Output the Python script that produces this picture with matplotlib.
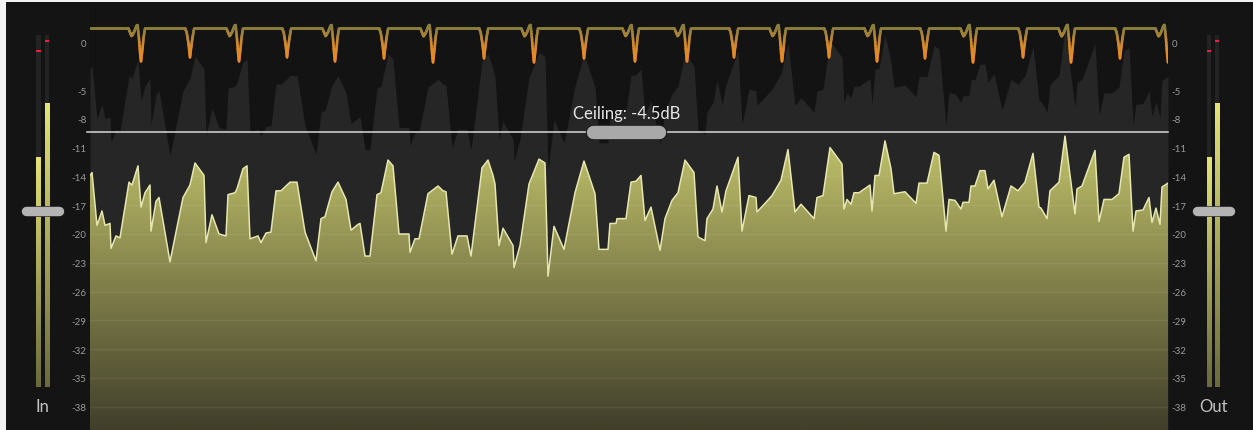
import numpy as np
import matplotlib.pyplot as plt
from matplotlib.collections import LineCollection
from matplotlib.colors import LinearSegmentedColormap, Normalize

# -----------------------------
# DATA
# -----------------------------
frames = [0, 2, 7, 12, 15, 20, 21, 26, 30, 39, 42, 48, 51, 55, 60, 61, 66, 69, 80, 93,
          100, 105, 114, 116, 122, 129, 136, 138, 145, 147, 153, 157, 160, 168, 171, 176, 181, 186, 191, 200,
          207, 215, 226, 231, 235, 242, 248, 256, 261, 268, 270, 275, 280, 287, 291, 298, 303, 309, 319, 320,
          325, 329, 338, 348, 353, 356, 362, 368, 377, 381, 392, 398, 403, 405, 409, 413, 423, 424, 430, 439,
          449, 455, 458, 464, 474, 485, 494, 505, 509, 518, 520, 526, 527, 536, 541, 546, 551, 555, 561, 570,
          575, 582, 588, 595, 604, 608, 615, 617, 623, 627, 632, 636, 648, 652, 659, 666, 667, 676, 682, 691,
          698, 705, 711, 717, 724, 727, 733, 740, 752, 754, 757, 761, 764, 769, 780, 782, 785, 789, 795, 801,
          803, 804, 815, 826, 829, 837, 844, 849, 856, 859, 865, 871, 873, 879, 881, 885, 890, 895, 898, 904,
          912, 921, 928, 935, 943, 949, 951, 957, 960, 969, 975, 985, 987, 992, 1005, 1009, 1014, 1022, 1029, 1034,
          1039, 1043, 1046, 1053, 1059, 1062, 1066, 1070, 1072, 1078]

output_db = [-13.9, -13.6, -19.1, -17.6, -19.1, -18.9, -21.5, -20.2, -20.4, -14.6, -14.9, -12.9, -17.2, -15.7, -14.9, -19.7, -16.6, -16.2, -22.9, -16.2,
             -14.9, -12.6, -13.9, -20.9, -18.0, -20.0, -20.2, -15.9, -15.7, -15.3, -13.2, -12.9, -20.5, -20.2, -20.9, -19.9, -19.8, -15.5, -15.5, -14.6,
             -14.6, -19.8, -22.8, -18.4, -18.2, -15.6, -14.6, -16.4, -19.6, -19.0, -18.9, -22.3, -22.3, -15.9, -15.7, -12.3, -12.9, -20.0, -20.0, -21.9,
             -20.5, -20.5, -15.8, -15.0, -15.5, -15.6, -22.1, -20.2, -20.2, -22.3, -13.1, -12.3, -13.9, -14.8, -21.2, -19.4, -21.2, -23.5, -21.2, -14.8,
             -12.2, -12.6, -24.4, -19.2, -21.6, -15.7, -12.4, -15.8, -21.6, -21.6, -18.9, -18.9, -18.4, -18.4, -14.6, -14.5, -13.9, -18.6, -17.2, -21.7,
             -18.4, -16.5, -15.7, -12.3, -13.6, -20.3, -20.7, -18.4, -17.4, -15.0, -17.7, -15.5, -12.0, -19.7, -16.0, -16.2, -17.7, -16.7, -16.0, -14.4,
             -11.2, -17.7, -16.9, -17.6, -18.4, -16.2, -16.0, -11.0, -12.7, -17.4, -16.4, -16.9, -15.7, -15.7, -14.9, -17.6, -13.9, -13.9, -10.3, -13.2,
             -14.9, -15.8, -15.6, -16.8, -14.7, -14.7, -11.5, -11.8, -19.7, -16.4, -16.5, -17.4, -16.7, -16.7, -15.0, -15.0, -13.4, -13.4, -15.3, -14.4,
             -18.2, -15.0, -15.5, -14.6, -11.6, -17.2, -17.3, -18.4, -15.5, -14.6, -9.8, -17.9, -15.3, -15.0, -11.3, -18.7, -16.4, -16.4, -15.8, -12.0,
             -11.7, -19.7, -17.6, -17.5, -16.2, -18.8, -17.3, -19.0, -15.1, -14.7]

INPUT_DRIVE_DB = 11.1          # grey input trace sits this far above the output
CEILING_DB = -9.4
CEILING_LABEL = "Ceiling: -4.5dB"

db_ticks = [0, -5, -8, -11, -14, -17, -20, -23, -26, -29, -32, -35, -38]
db_tick_labels = ["0", "-5", "-8", "-11", "-14", "-17", "-20", "-23", "-26", "-29", "-32", "-35", "-38"]

# gain reduction dips: frame, kind (A = with pre-dip, B = single), depth in dB
dip_frames = [51, 100, 149, 197, 245, 294, 343, 394, 444, 494, 545,
              597, 644, 692, 739, 787, 835, 883, 933, 981, 1030, 1078]
dip_kinds = ["A", "B", "A", "B", "A", "B", "A", "B", "A", "B", "A",
             "A", "B", "A", "B", "A", "B", "A", "B", "A", "B", "A"]
dip_depth_db = [-3.3, -2.9, -3.3, -2.9, -3.3, -3.0, -3.4, -3.0, -3.4, -3.0, -3.3,
                -3.3, -2.9, -3.3, -2.9, -3.3, -3.0, -3.4, -2.9, -3.4, -3.0, -3.4]

# shape of one dip (frame offset, fraction of depth)
DIP_SHAPES = {
    "A": ([-12.7, -11, -9.4, -7, -4.4, -3.4, -2, -1, 0, 1.3, 2.6, 4],
          [0, 0.12, 0.24, 0.12, -0.08, -0.1, 0.32, 0.72, 1.0, 0.67, 0.27, 0]),
    "B": ([-5, -3.3, -1.7, -0.7, 0, 1, 2.3, 3.7, 4.3],
          [0, 0.14, 0.48, 0.77, 1.0, 0.71, 0.37, 0.08, 0]),
}

meter_levels_db = [-20.8, -11.6]   # L, R
meter_peaks_db = [-2.7, -1.0]
fader_db = -30.0

# -----------------------------
# LAYOUT
# -----------------------------
W, H = 1253, 431
plt.rcParams['font.family'] = ['Lato', 'DejaVu Sans']


def box(x0, y0, x1, y1):
    return [x0 / W, 1 - y1 / H, (x1 - x0) / W, (y1 - y0) / H]


fig = plt.figure(figsize=(W / 100, H / 100), dpi=100, facecolor="#f2f2f2")
bg = fig.add_axes(box(6, 3, W, H))
bg.set_axis_off()
bg.add_patch(plt.Rectangle((0, 0), 1, 1, transform=bg.transAxes, color="#141414"))

Y_LO, Y_HI = -40.42, 4.17
ax = fig.add_axes(box(90, 3, 1168, H))
ax.set_facecolor("#131313")
for s in ax.spines.values():
    s.set_visible(False)
ax.set_xticks([])
ax.set_yticks(db_ticks)
ax.set_yticklabels(db_tick_labels)
ax.tick_params(axis="y", length=0, labelsize=7, labelcolor="#9a9a9a",
               labelleft=True, labelright=True, pad=2.5)

out = np.array(output_db)
inp = out + INPUT_DRIVE_DB

# input (grey)
ax.fill_between(frames, inp, Y_LO, color="#262626", lw=0, zorder=1)

# output (yellow gradient)
poly = ax.fill_between(frames, out, Y_LO, facecolor="none", edgecolor="none", zorder=2)
out_path = poly.get_paths()[0]
ycmap = LinearSegmentedColormap.from_list("y", [(0, "#413f2b"), (0.55, "#8a894f"), (1, "#c4c66c")])
grad = np.linspace(1, 0, 256).reshape(-1, 1)
img = ax.imshow(grad, cmap=ycmap, extent=[0, 1078, Y_LO, -9.0], aspect="auto",
                origin="upper", zorder=3, interpolation="bilinear")
img.set_clip_path(out_path, transform=ax.transData)
ax.plot(frames, out, color="#e6e6b0", lw=1.1, zorder=4)
ax.set_xlim(0, 1078)
ax.set_ylim(Y_LO, Y_HI)

for v in db_ticks:
    gl = ax.axhline(v, color="white", alpha=0.07, lw=1, zorder=3.5)
    gl.set_clip_path(out_path, transform=ax.transData)

# ceiling
ax.plot([-3, 1078], [CEILING_DB, CEILING_DB], color="#d8d8d8", lw=1.1, zorder=6, clip_on=False)
ax.plot([502.5, 569], [CEILING_DB, CEILING_DB], color="#1c1c1c", lw=15.4 * 0.72,
        solid_capstyle="round", zorder=7)
ax.plot([502.5, 569], [CEILING_DB, CEILING_DB], color="#a9a9a9", lw=13.4 * 0.72,
        solid_capstyle="round", zorder=8)
ax.annotate(CEILING_LABEL, xy=(537, CEILING_DB), xytext=(0, 14), textcoords="offset points",
            ha="center", va="center", fontsize=12, color="#e6e6e6", zorder=9)

# gain reduction trace
gr = fig.add_axes(box(90, 20, 1168, 70))
gr.set_axis_off()
gr.patch.set_alpha(0)
gr.set_xlim(0, 1078)
gr.set_ylim(-4.07, 0.93)
gx, gy = [0.0], [0.0]
for f, k, d in zip(dip_frames, dip_kinds, dip_depth_db):
    dx, frac = DIP_SHAPES[k]
    gx += [f + o for o in dx]
    gy += [d * s for s in frac]
gx.append(1090.0)
gy.append(0.0)
tt = np.arange(0, 1090, 0.25)
vv = np.interp(tt, gx, gy)
pts = np.column_stack([tt, vv]).reshape(-1, 1, 2)
segs = np.concatenate([pts[:-1], pts[1:]], axis=1)
gcmap = LinearSegmentedColormap.from_list("g", [(0, "#f28a22"), (0.55, "#d08a30"), (1, "#8b7d3b")])
lc = LineCollection(segs, cmap=gcmap, norm=Normalize(-3.3, 0), linewidths=1.9, capstyle="round")
lc.set_array(np.minimum((vv[:-1] + vv[1:]) / 2, 0))
gr.add_collection(lc)

# meters
mcmap = LinearSegmentedColormap.from_list("m", ["#6a6a3c", "#e4e476"])


def meter(x0, x1, bar_x, fader_x, label):
    m = fig.add_axes(box(x0, 36, x1, 388))
    m.set_axis_off()
    m.patch.set_alpha(0)
    m.bar(bar_x, 60, bottom=-60, width=4.6, color="#232323", zorder=1)
    bars = m.bar(bar_x, [lv + 60 for lv in meter_levels_db], bottom=-60, width=4.6,
                 color="none", zorder=2)
    for b, lv in zip(bars, meter_levels_db):
        im = m.imshow(np.linspace(1, 0, 128).reshape(-1, 1), cmap=mcmap, aspect="auto",
                      extent=[b.get_x(), b.get_x() + b.get_width(), -60, lv], origin="upper", zorder=2)
        im.set_clip_path(b)
    m.bar(bar_x, 0.34, bottom=[p - 0.17 for p in meter_peaks_db], width=4.6, color="#e8203c", zorder=3)
    m.plot([fader_x[0] + 4.7, fader_x[1] - 4.7], [fader_db, fader_db], color="#1e1e1e",
           lw=10.6 * 0.72, solid_capstyle="round", zorder=4)
    m.plot([fader_x[0] + 4.7, fader_x[1] - 4.7], [fader_db, fader_db], color="#b4b4b4",
           lw=9.4 * 0.72, solid_capstyle="round", zorder=5)
    m.set_xlim(x0, x1)
    m.set_ylim(-60, 0)
    cx = (fader_x[0] + fader_x[1]) / 2
    fig.text(cx / W, 1 - 407 / H, label, ha="center", va="center", fontsize=12, color="#c4c4c4")


meter(6, 90, [38.4, 46.8], (21, 63.3), "In")
meter(1168, W, [1208.8, 1217.0], (1192.3, 1234.3), "Out")

fig.savefig("out.png", dpi=100, facecolor=fig.get_facecolor())
